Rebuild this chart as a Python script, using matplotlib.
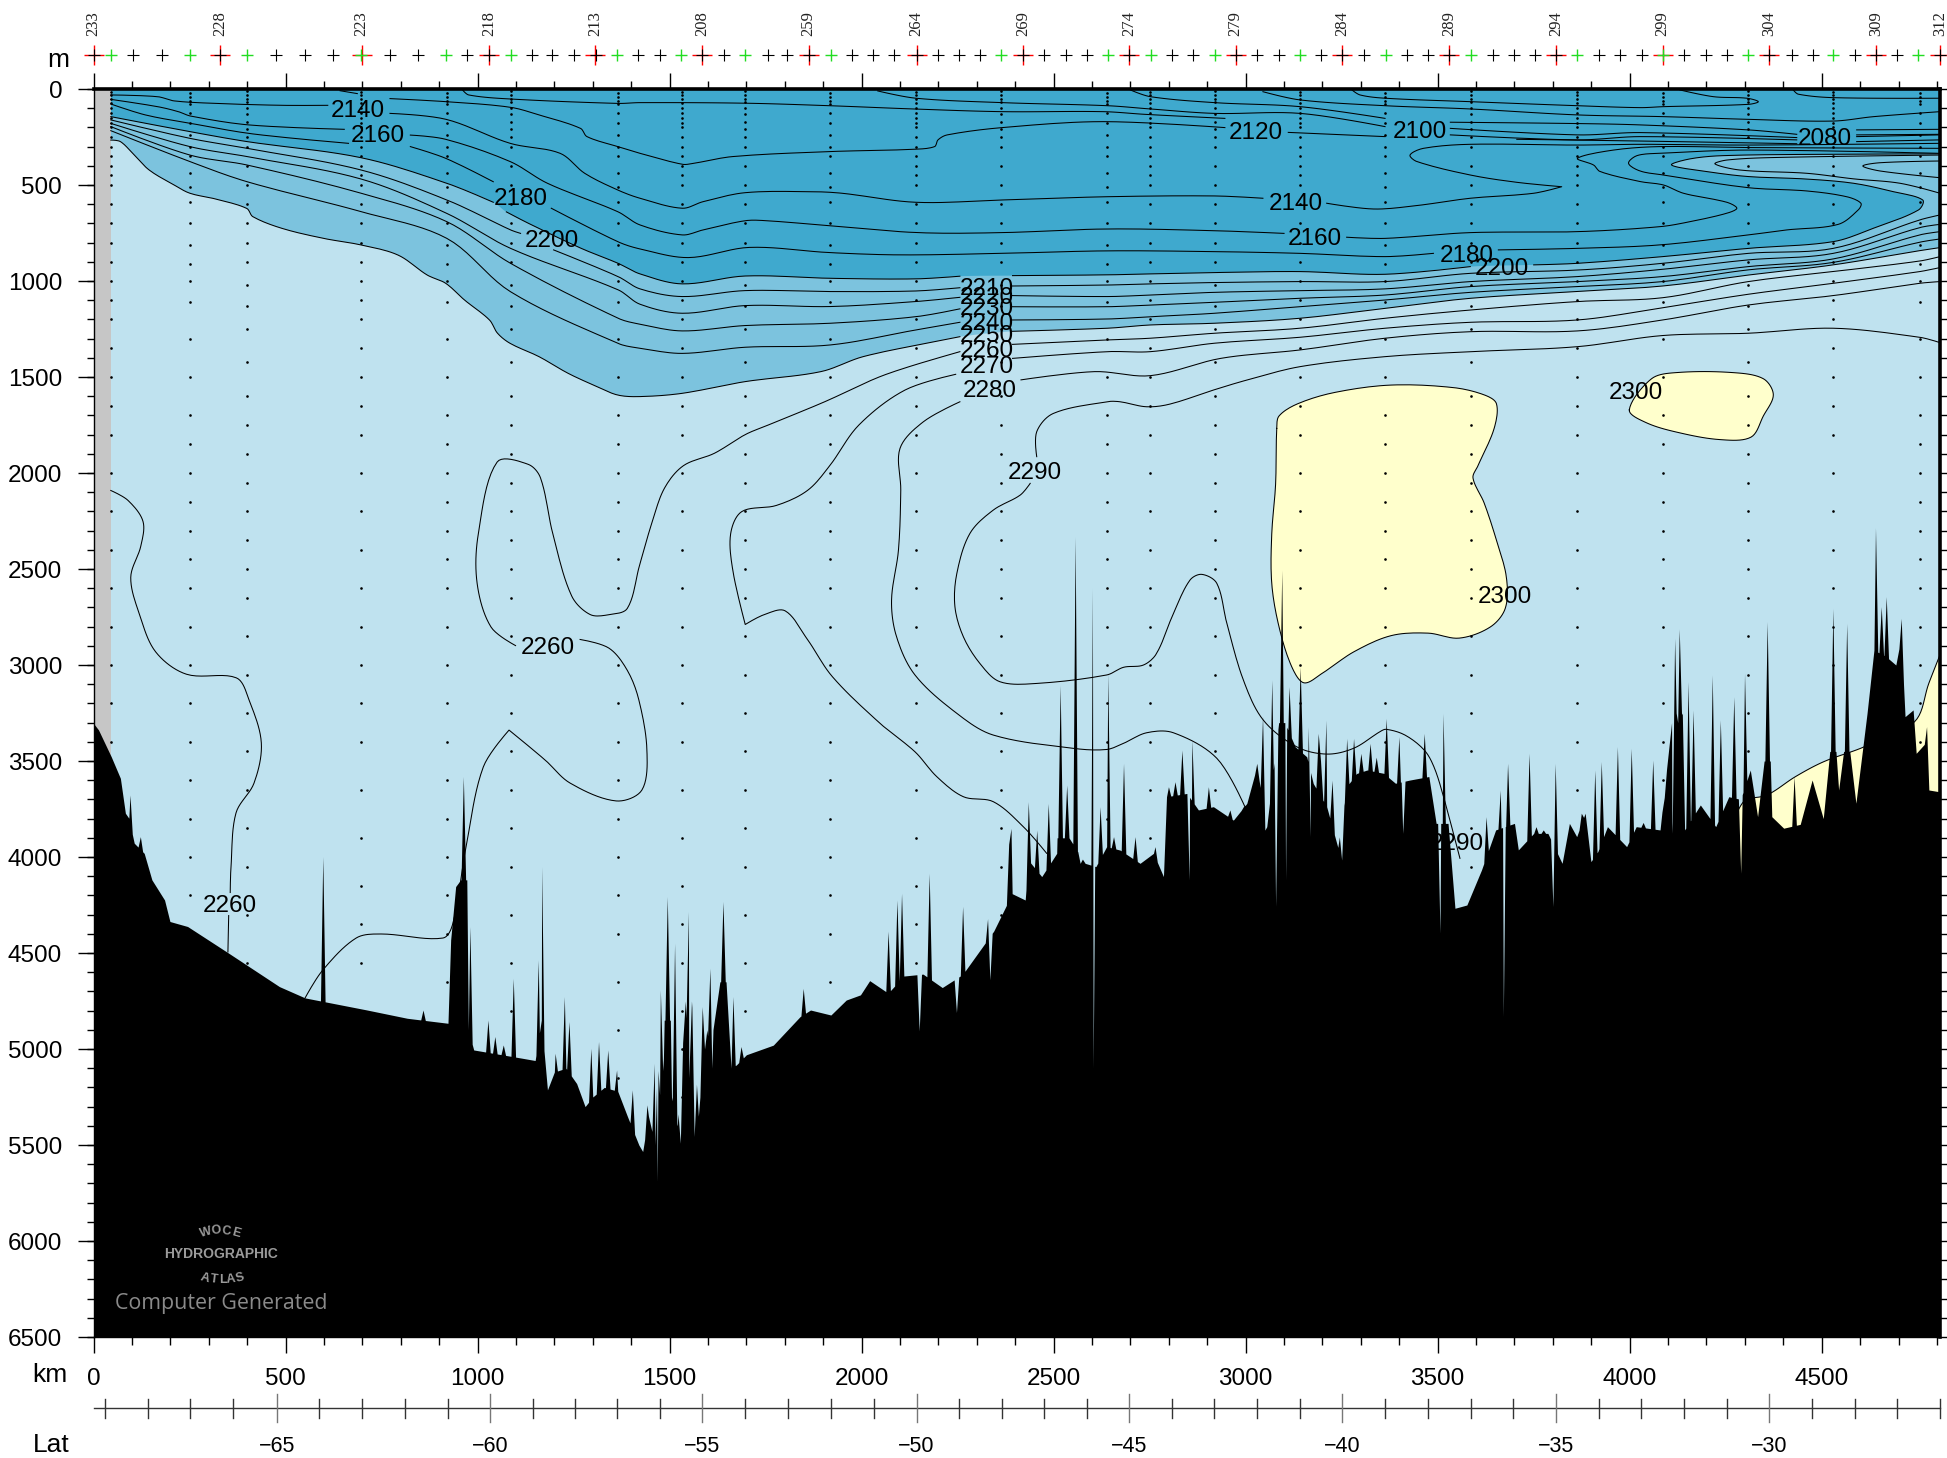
import numpy as np
import matplotlib
matplotlib.use('Agg')
import matplotlib.pyplot as plt

plt.rcParams['font.family'] = ['Liberation Sans', 'DejaVu Sans']

GAP = (np.nan, np.nan)

# ---- layered contours on common columns (km) -------------------------------
G_MID = [45,251,400,697,920,1086,1366,1423,1533,1697,1919,2141,2256,2393,2640,2752,2919,3142,3363,3586,3864,4086,4309,4530,4755,4808]
M2210 = [161,257,309,422,578,734,977,1041,1081,1050,1055,1052,1035,1026,1021,1015,1008,1003,1003,960,943,908,856,830,682,656]
M2220 = [179,300,352,469,648,830,1046,1121,1168,1128,1133,1107,1085,1076,1081,1073,1059,1050,1041,1003,977,939,890,856,722,705]
M2230 = [196,344,396,543,691,908,1194,1225,1260,1232,1220,1186,1145,1134,1134,1125,1111,1090,1073,1029,1003,977,925,885,760,743]
M2240 = [217,378,483,639,778,1056,1325,1350,1377,1345,1333,1255,1215,1203,1198,1186,1168,1133,1099,1059,1029,1003,942,903,798,781]

C2250 = [(45,266),(70,274),(102,335),(145,422),(210,500),(251,543),(318,573),(399,622),(415,665),(491,726),(599,778),(696,812),(793,865),(869,969),(917,1012),(966,1099),(1031,1203),(1052,1272),(1085,1325),(1160,1394),(1236,1481),(1311,1550),(1365,1594),(1423,1602),(1533,1585),(1697,1524),(1894,1472),(2004,1394),(2190,1316),(2256,1290),GAP,(2393,1262),(2640,1246),(2752,1229),(2919,1220),(3142,1194),(3363,1142),(3586,1090),(3864,1055),(4086,1026),(4309,969),(4530,916),(4755,842),(4808,826)]

C2200 = [(45,144),(251,222),(400,274),(697,358),(920,491),(1041,590),GAP,(1075,640),(1133,700),(1270,830),(1366,908),(1423,963),(1533,1015),(1697,974),(1919,986),(2141,989),(2256,975),GAP,(2393,972),(2640,968),(2752,963),(2919,956),(3142,951),(3363,965),(3585,925),GAP,(3750,916),(3864,908),(4086,873),(4309,830),(4530,795),(4635,725),(4752,630),(4763,578),(4687,535),(4583,491),(4461,469),(4309,456),(4201,430),(4109,396),(4157,364),(4244,347),(4513,340),(4808,338)]

C2180 = [(45,78),(135,135),(253,179),(415,234),(664,283),GAP,(825,300),(917,361),(1041,483),GAP,(1192,621),(1365,795),(1423,833),(1549,878),(1708,825),(1916,852),(2102,864),(2366,856),(2640,843),(2919,847),(3142,856),(3363,873),(3489,856),GAP,(3658,838),(3864,830),(4079,812),(4309,760),(4409,734),(4543,705),(4595,630),(4602,595),(4565,561),(4461,531),(4309,514),(4088,448),(4027,427),(3997,387),(4019,347),(4079,335),(4309,318),(4808,335)]

C2160 = [(45,54),(167,92),(221,118),(253,141),(404,187),(653,210),GAP,(825,240),(917,262),(1085,378),(1182,491),(1365,639),(1423,708),(1533,760),(1587,734),(1697,686),(1752,686),(1916,712),(2146,748),(2366,748),(2640,729),(2919,738),(3100,752),GAP,(3263,772),(3363,778),(3585,748),(3864,743),(4079,717),(4157,691),(4253,647),(4279,621),(4253,590),(4140,543),(4088,500),(4027,482),(3923,430),(3906,396),(3864,361),(3958,318),(4079,300),(4309,305),(4808,309)]

C2140 = [(45,31),(167,40),(210,62),(318,75),(491,85),(610,85),GAP,(772,127),(918,158),(1085,283),(1215,335),(1279,439),(1365,526),(1423,569),(1533,621),(1587,587),(1697,540),(1872,535),(1949,543),(2141,590),(2366,578),(2640,561),(2919,557),(3045,569),GAP,(3211,595),(3333,625),(3446,607),(3585,569),(3750,543),(3823,509),(3706,486),(3585,448),(3446,378),(3428,344),(3463,309),(3585,288),(3864,292),(4027,288),(4309,292),(4808,283)]

C2120 = [(642,9),(687,24),GAP,(772,50),(918,66),(1085,95),(1160,135),(1268,205),(1285,248),(1365,300),(1423,335),(1533,392),(1560,388),(1664,352),(1916,326),(2135,314),(2190,300),(2199,265),(2223,239),(2366,201),(2629,170),(2946,201),GAP,(3111,226),(3363,248),GAP,(3533,239),(3864,265),(4027,248),(4435,265),GAP,(4591,248),(4808,239)]

C_U1 = [(961,5),(977,31),(1085,52),(1365,75),(1423,71),(1697,74),(1916,87),(2135,104),(2366,118),(2629,118),(2738,132),(2946,153)]
C_U1B = [(3706,262),(4027,271),(4435,285),GAP,(4591,274),(4808,265)]
C_A = [(3045,14),(3142,57),(3363,87),(3585,104),(3864,135),(4088,144),(4309,158),(4530,167),(4635,144),(4808,118)]
C_B = [(2700,5),(2752,40),(2919,71),(3142,92),(3363,153),GAP,(3533,173),(3864,180),(4027,187),(4309,213),(4435,236),GAP,(4591,213),(4808,210)]
C_C = [(2042,10),(2141,48),(2366,71),(2640,87),(2752,104),(2919,127),(3142,127),(3363,196),GAP,(3533,205),(3864,239),(4027,227),(4435,253),GAP,(4591,239),(4808,236)]
C_T1 = [(3277,5),(3298,31),(3363,48),(3585,66),(3864,87),(4027,97),(4088,92),(4309,80),(4335,66),(4305,48),(4218,40),(4131,5)]
C_T2 = [(4426,5),(4439,27),(4530,45),(4808,48)]
C_I1 = [(4808,344),(4374,357),(4253,370),(4222,390),(4287,422),(4461,439),(4583,468),(4704,491),(4808,543)]
C_I2 = [(4808,375),(4652,384),(4607,401),(4652,427),(4808,462)]

C2260A = [(45,2091),(90,2143),(129,2253),(123,2382),(97,2544),(120,2738),(162,2932),(242,3048),(372,3067),(405,3182),(437,3406),(418,3615),(371,3771),(358,4052),(356,4185),GAP,(352,4305),(350,4495)]
C2260B = [(551,4734),(597,4589),(684,4422),(749,4401),(910,4422),(936,4344),(970,3948),(1015,3531),(1082,3339),(1176,3495),(1241,3615),(1361,3708),(1428,3651),(1441,3443),(1420,3182),(1390,3028),(1342,2912),(1267,2867),GAP,(1099,2899),(1035,2802),(999,2576),(1002,2317),(1051,1943),(1132,1955),(1164,2026),(1196,2317),(1245,2640),(1293,2737),(1342,2738),(1390,2705),(1422,2479),(1455,2253),(1487,2078),(1536,1962),(1617,1897),(1697,1800),(1757,1750),(1905,1628),(2037,1507),(2124,1446),(2256,1368),GAP,(2393,1330),(2640,1307),(2752,1298),(2919,1272),(3142,1246),(3363,1194),(3586,1151),(3864,1107),(4086,1087),(4309,1003),(4530,951),(4755,896),(4808,873)]
C2270 = [(2482,3981),(2421,3842),(2343,3712),(2265,3686),(2196,3582),(2139,3452),(2048,3304),(1924,3061),(1859,2867),(1801,2718),(1746,2738),(1697,2789),(1665,2511),(1659,2317),(1688,2201),(1778,2169),(1859,2091),(1917,1962),(1993,1750),(2113,1568),(2245,1486),GAP,(2393,1403),(2640,1368),(2752,1368),(2919,1324),(3142,1293),(3363,1246),(3586,1215),(3864,1203),(4086,1139),(4309,1069),(4530,1012),(4755,951),(4808,930)]
C2280 = [(2998,3738),(2925,3486),(2812,3353),(2742,3353),(2682,3408),(2638,3440),(2551,3434),(2343,3365),(2248,3252),(2139,3052),(2091,2853),(2078,2662),(2096,2401),(2102,2089),(2100,1872),(2161,1733),(2256,1629),GAP,(2415,1515),(2607,1472),(2752,1493),(2935,1403),(3142,1359),(3363,1298),(3586,1264),(3864,1260),(4086,1203),(4309,1125),(4530,1076),(4755,1012),(4808,1003)]
C2290 = [(3558,4007),(3514,3677),(3490,3529),(3465,3443),(3415,3365),(3366,3335),(3350,3347),(3281,3434),(3211,3464),(3133,3426),(3046,3287),(2994,3078),(2951,2783),(2925,2575),(2886,2528),(2855,2558),(2812,2731),(2768,2940),(2734,3000),(2682,3012),(2638,3052),(2456,3096),(2360,3087),(2308,2992),(2265,2853),(2243,2696),(2248,2523),(2282,2315),(2343,2193),(2413,2115),(2439,2054),GAP,(2456,1915),(2456,1785),(2499,1690),(2638,1629),(2673,1629),(2742,1655),(2803,1641),(2916,1568),(3003,1516),(3142,1446),(3363,1394),(3586,1368),(3864,1342),(4086,1284),(4309,1272),(4530,1246),(4755,1293),(4808,1321)]

Y_MAIN = [(3081,1768),(3087,1703),(3136,1639),(3233,1580),(3379,1542),(3540,1555),(3621,1593),(3653,1639),(3647,1768),(3605,1962),(3592,2026),(3621,2156),(3653,2350),(3679,2544),(3676,2705),(3637,2802),(3556,2860),(3475,2834),(3379,2847),(3282,2931),(3201,3041),(3152,3093),(3120,3009),(3087,2802),(3068,2576),(3068,2317),(3078,2059),(3081,1768)]
Y_SMALL = [(3999,1671),(4057,1509),(4122,1477),(4268,1477),(4348,1509),(4374,1593),(4348,1703),(4316,1813),(4235,1826),(4122,1787),(4041,1736),(3999,1671)]
Y_RIGHT = [(4283,3755),(4302,3703),(4358,3677),(4432,3581),(4506,3503),(4612,3425),(4742,3295),(4779,3095),(4806,2957)]
CUSPS = {(1082,3339),(1697,2789),(3823,509),(4283,3755)}

# ---- bathymetry --------------------------------------------------------------
BASE = [(0,3304),(13,3338),(46,3477),(70,3590),(83,3772),(92,3798),(106,3928),(132,3981),(152,4119),(185,4224),(199,4336),(245,4362),(352,4501),(484,4675),(551,4734),(710,4796),(817,4840),(923,4866),(930,4432),(943,4154),(956,4119),(972,4119),(976,4901),(990,5005),(1116,5048),(1150,5060),(1182,5213),(1200,5120),(1230,5100),(1258,5180),(1280,5300),(1300,5250),(1330,5200),(1365,5220),(1390,5350),(1420,5500),(1430,5534),(1445,5350),(1462,5500),(1476,5300),(1505,5250),(1520,5400),(1550,5150),(1575,5350),(1585,5100),(1610,5100),(1660,5100),(1674,5083),(1700,5030),(1770,4980),(1840,4831),(1867,4797),(1920,4823),(1960,4745),(1997,4718),(2021,4644),(2069,4709),(2110,4620),(2160,4610),(2210,4680),(2263,4612),(2344,4386),(2392,4191),(2426,4224),(2434,4016),(2469,4102),(2508,3981),(2540,3900),(2582,4033),(2610,4050),(2638,3946),(2673,3964),(2725,4033),(2760,3981),(2786,4102),(2794,3686),(2847,3669),(2877,3755),(2916,3738),(2968,3808),(3003,3721),(3029,3530),(3055,3842),(3129,3426),(3159,3478),(3176,3617),(3211,3738),(3240,3950),(3263,3634),(3289,3565),(3316,3547),(3359,3564),(3390,3616),(3428,3599),(3477,3581),(3496,3825),(3527,3825),(3545,4267),(3576,4250),(3614,4068),(3651,3859),(3700,3825),(3710,3963),(3750,3877),(3787,3877),(3824,4033),(3843,3825),(3862,3894),(3884,3772),(3899,4024),(3917,3972),(3942,3842),(3992,3946),(4017,3842),(4079,3859),(4110,3877),(4143,3859),(4184,3729),(4224,3842),(4258,3686),(4289,3700),(4314,3547),(4333,3790),(4370,3790),(4401,3850),(4444,3830),(4475,3599),(4504,3800),(4544,3651),(4589,3720),(4618,3252),(4636,2922),(4668,2957),(4693,3000),(4707,2852),(4717,3269),(4738,3234),(4746,3460),(4773,3400),(4779,3651),(4806,3660),(4808,3660)]
SHOULDERS = [(1158,4850),(1476,5050),(1494,4850),(1549,4750),(1605,4900),(1639,4650),(2517,3900),(3094,3300),(4117,3300),(4129,3250),(4358,3500),(4529,3450),(4565,3450)]
PEAKS = [(95,3677),(122,3894),(597,3998),(858,4797),(963,3581),(980,4362),(1027,4849),(1045,4935),(1067,4979),(1093,4632),(1158,4536),(1167,4050),(1202,5022),(1226,4727),(1238,4857),(1295,4996),(1315,4961),(1339,5005),(1362,5109),(1403,5213),(1441,5291),(1460,5074),(1476,4692),(1494,4206),(1513,4449),(1549,4284),(1585,4779),(1605,4579),(1639,4232),(1665,4727),(1686,4987),(1848,4684),(2069,4386),(2092,4224),(2104,4189),(2176,4085),(2263,4257),(2328,4321),(2383,3933),(2389,3851),(2434,3712),(2456,3860),(2486,3721),(2517,3104),(2534,3625),(2556,2332),(2601,2601),(2621,3738),(2641,3044),(2656,3894),(2682,3512),(2712,3894),(2764,3946),(2799,3634),(2816,3608),(2834,3443),(2860,3391),(2903,3634),(2959,3755),(2994,3738),(3029,3512),(3044,3269),(3068,3078),(3094,2506),(3113,3113),(3142,3009),(3163,3321),(3189,3356),(3195,3500),(3209,3287),(3225,3600),(3263,3382),(3281,3382),(3300,3460),(3324,3408),(3340,3480),(3366,3278),(3399,3373),(3465,3356),(3514,3252),(3626,3790),(3663,3651),(3682,3512),(3738,3460),(3756,3842),(3775,3859),(3806,3512),(3874,3772),(3909,3547),(3926,3503),(3968,3425),(4004,3434),(4035,3820),(4060,3495),(4090,3690),(4117,2861),(4129,2812),(4152,3087),(4165,3234),(4215,3052),(4236,3286),(4271,3165),(4299,3043),(4358,2774),(4428,3581),(4529,2705),(4565,2783),(4640,2285),(4655,2696),(4668,2644),(4707,2757),(4773,3321)]
NOTCHES = [(1468,5690),(1528,5491),(1564,5456),(2150,4906),(2247,4810),(2334,4640),(2569,4033),(2603,5100),(2853,4120),(3050,3860),(3078,4257),(3104,4120),(3168,3894),(3250,4016),(3409,3877),(3506,4397),(3671,4831),(3800,4258),(4289,4085)]

# ---- stations ----------------------------------------------------------------
RED_KM = [0,330,698,1031,1306,1584,1862,2143,2421,2696,2974,3252,3530,3808,4086,4364,4642,4808]
RED_LABELS = ['233','228','223','218','213','208','259','264','269','274','279','284','289','294','299','304','309','312']
GREEN_KM = [45,250,400,697,918,1086,1364,1529,1697,1920,2363,2641,2754,2919,3142,3365,3588,3863,4086,4309,4529,4752]
BLACK_KM = [0,103,178,329,475,551,623,772,845,973,1031,1141,1195,1251,1308,1419,1474,1584,1642,1755,1807,1862,1975,2030,2085,2143,2198,2253,2308,2421,2476,2531,2586,2696,2809,2864,2974,3029,3087,3197,3252,3307,3420,3475,3530,3643,3698,3753,3808,3921,3976,4031,4141,4199,4254,4364,4423,4477,4587,4642,4697,4808]

DEPTHS_A = [15,30,50,75,100,125,150,175,200,250,300,350,400,450,500,600,700,800,900,1000,1100,1200,1350,1500,1650,1800,2000,2200,2400,2600,2800,3000,3200,3400,3650,3900,4150,4350,4550,4800,5000,5250,5500]
DEPTHS_B = [20,40,60,80,125,175,240,300,350,440,510,590,700,810,910,1000,1110,1300,1500,1700,1850,2000,2150,2300,2450,2600,2800,3000,3200,3400,3600,3800,4000,4200,4400,4650,4900,5150,5400]
DEPTHS_C = [10,30,50,70,100,130,170,210,250,300,400,500,600,700,800,900,1020,1130,1250,1420,1600,1750,1900,2050,2200,2350,2500,2650,2850,3050,3250,3450,3650,3850,4050,4300,4550,4800]
STN_COLUMNS = {45:DEPTHS_A,251:DEPTHS_B,400:DEPTHS_C,697:DEPTHS_A,920:DEPTHS_B,1086:DEPTHS_C,1366:DEPTHS_B,1533:DEPTHS_A,1697:DEPTHS_C,1919:DEPTHS_B,2141:DEPTHS_A,2363:DEPTHS_C,2640:DEPTHS_B,2752:DEPTHS_A,2919:DEPTHS_C,3142:DEPTHS_A,3363:DEPTHS_B,3586:DEPTHS_C,3864:DEPTHS_A,4086:DEPTHS_B,4309:DEPTHS_C,4530:DEPTHS_A,4755:DEPTHS_B}

LAT_MAJOR = [-65,-60,-55,-50,-45,-40,-35,-30]
LAT_MAJOR_KM = [477,1033,1584,2143,2696,3252,3808,4364]
LAT_MINOR_KM = [30,141,252,362,587,699,810,922,1144,1254,1364,1474,1696,1808,1920,2031,2254,2365,2475,2586,2807,2918,3030,3141,3363,3474,3586,3697,3919,4030,4141,4253,4475,4586,4697,4808]

LABELS = [('2140',689,113),('2160',740,243),('2180',1112,572),('2200',1193,792),('2120',3026,230),('2100',3453,223),('2080',4507,262),('2140',3130,598),('2160',3181,779),('2180',3576,869),('2200',3666,940),('2210',2325,1042),('2220',2325,1086),('2230',2325,1147),('2240',2325,1225),('2250',2325,1285),('2260',2325,1363),('2270',2325,1447),('2280',2333,1575),('2290',2451,2001),('2300',3676,2647),('2300',4015,1581),('2260',1183,2912),('2260',356,4257),('2290',3550,3934)]

DARK, MID, LIGHT, YEL, GREY = '#3FA9CE', '#7CC3DE', '#BFE2EF', '#FFFFCC', '#C6C6C6'

W, H = 1947, 1458
L, R, T, B = 93.5, 1940, 89, 1337
fig = plt.figure(figsize=(W/100, H/100), dpi=100, facecolor='white')
ax = fig.add_axes([L/W, 1-B/H, (R-L)/W, (B-T)/H])
ax.set_xlim(0, 4808)
ax.set_ylim(6500, 0)
ax.set_facecolor(DARK)
SX, SY = (R-L)/4808, (B-T)/6500


def bezier_run(run):
    """Draw a hand-read run of contour vertices as a rounded curve (the reference's lines are smooth)."""
    if len(run) < 3:
        return [p[0] for p in run], [p[1] for p in run]
    closed = run[0] == run[-1]
    P = np.array(run, float) * [SX, SY]
    n = len(P)
    tang = np.zeros_like(P)
    for i in range(n):
        if tuple(run[i]) in CUSPS:
            continue
        if closed and i in (0, n-1):
            a, b = P[0]-P[n-2], P[1]-P[0]
        elif i == 0 or i == n-1:
            continue
        else:
            a, b = P[i]-P[i-1], P[i+1]-P[i]
        la, lb = np.hypot(*a), np.hypot(*b)
        tang[i] = (a+b) / max(la+lb, 1e-6)
    out = [P[0]]
    ts = np.linspace(0, 1, 11)[1:]
    for i in range(n-1):
        d = np.hypot(*(P[i+1]-P[i]))
        c1 = P[i] + tang[i]*d/3
        c2 = P[i+1] - tang[i+1]*d/3
        for t in ts:
            out.append((1-t)**3*P[i] + 3*(1-t)**2*t*c1 + 3*(1-t)*t**2*c2 + t**3*P[i+1])
    out = np.array(out) / [SX, SY]
    return out[:, 0], out[:, 1]


def curve(seq):
    xs, ys, run = [], [], []
    for p in list(seq) + [GAP]:
        if np.isnan(p[0]):
            if run:
                a, b = bezier_run(run)
                xs += list(a) + [np.nan]
                ys += list(b) + [np.nan]
            run = []
        else:
            run.append(tuple(p))
    return np.array(xs), np.array(ys)


def solid(seq):
    return [p for p in seq if not np.isnan(p[0])]


def mid_line(vals):
    pts = []
    for k, v in zip(G_MID, vals):
        if k == 2393:
            pts.append(GAP)
        pts.append((k, v))
    return pts


def add_left_gap(pts):
    out = []
    for p in pts:
        if p[0] == 1366:
            out += [(1112, 752), GAP, (1198, 838)]
        out.append(p)
    return out


def strip_nan(xs, ys):
    m = ~np.isnan(xs)
    return xs[m], ys[m]


# fills
px, py = strip_nan(*curve(solid(C2200)))
ax.fill(np.r_[px, 4808, 45], np.r_[py, 6500, 6500], color=MID, lw=0, zorder=1)
px, py = strip_nan(*curve(solid(C2250)))
ax.fill(np.r_[px, 4808, 45], np.r_[py, 6500, 6500], color=LIGHT, lw=0, zorder=1.1)
ax.fill(*strip_nan(*curve(Y_MAIN)), color=YEL, lw=0, zorder=1.2)
ax.fill(*strip_nan(*curve(Y_SMALL)), color=YEL, lw=0, zorder=1.2)
px, py = strip_nan(*curve(Y_RIGHT))
ax.fill(np.r_[px, 4808, 4283], np.r_[py, 6500, 6500], color=YEL, lw=0, zorder=1.2)
ax.fill([0, 45, 45, 0], [0, 0, 6500, 6500], color=GREY, lw=0, zorder=1.3)

# contour lines
ALL_LINES = [C2180, C2160, C2140, C2120, C_U1, C_U1B, C_A, C_B, C_C, C_T1, C_T2, C_I1, C_I2,
             C2200, C2250, C2260A, C2260B, C2270, C2280, C2290, Y_MAIN, Y_SMALL, Y_RIGHT,
             add_left_gap(mid_line(M2210)), mid_line(M2220), mid_line(M2230), mid_line(M2240)]
for seq in ALL_LINES:
    ax.plot(*curve(seq), color='black', lw=0.75, zorder=2, solid_joinstyle='round')

# station dots
for km, depths in STN_COLUMNS.items():
    ax.plot([km]*len(depths), depths, ls='none', marker='o', ms=1.9, mfc='black', mec='none', zorder=2.5)

# bathymetry
full_base = sorted(BASE + [(k+o, h) for k, h in SHOULDERS for o in (-8, 8)])
bx = np.array([p[0] for p in full_base], float)
by = np.array([p[1] for p in full_base], float)
prof = {float(k): float(v) for k, v in zip(bx, by)}
w = 6.0
for k, v in PEAKS + NOTCHES:
    for off in (-w, w):
        kk = float(k + off)
        if 0 <= kk <= 4808:
            prof.setdefault(kk, float(np.interp(kk, bx, by)))
for k, v in PEAKS + NOTCHES:
    prof[float(k)] = float(v)
kms = sorted(prof)
ax.fill_between(kms, [prof[k] for k in kms], 6500, color='black', lw=0, zorder=3)

# labels on contours
for txt, k, d in LABELS:
    ax.text(k, d, txt, fontsize=17.5, ha='center', va='center', color='black', zorder=4)

# axes and ticks
for s in ('left', 'bottom'):
    ax.spines[s].set_linewidth(1.0)
for s in ('top', 'right'):
    ax.spines[s].set_linewidth(2.6)
ax.set_xticks(range(0, 4801, 500))
ax.set_xticks(range(0, 4801, 100), minor=True)
ax.set_yticks(range(0, 6501, 500))
ax.set_yticks(range(0, 6501, 100), minor=True)
ax.yaxis.remove_overlapping_locs = False
ax.tick_params(axis='y', which='major', left=True, length=11.5, width=1.0, labelsize=17.5, pad=11)
ax.tick_params(axis='y', which='minor', left=True, right=True, length=5, width=1.0)
ax.tick_params(axis='x', which='major', bottom=True, top=True, length=11.5, width=1.0, labelsize=17.5, pad=11)
ax.tick_params(axis='x', which='minor', bottom=True, top=True, length=5.5, width=1.0)
ax.set_axisbelow(False)

# top station strip
tr = ax.get_xaxis_transform()
ys = 1 + (T - 55) / (B - T)
ax.plot(RED_KM, [ys]*len(RED_KM), ls='none', marker='+', ms=14, mew=1.0, color='#FF0000', transform=tr, clip_on=False, zorder=5)
ax.plot(GREEN_KM, [ys]*len(GREEN_KM), ls='none', marker='+', ms=8, mew=1.0, color='#22DD22', transform=tr, clip_on=False, zorder=6)
ax.plot(BLACK_KM, [ys]*len(BLACK_KM), ls='none', marker='+', ms=8, mew=0.8, color='black', transform=tr, clip_on=False, zorder=6)
for k, t in zip(RED_KM, RED_LABELS):
    ax.text(k, 1 + (T - 24) / (B - T), t, rotation=90, fontsize=12, family='Liberation Serif',
            ha='center', va='center', color='#222222', transform=tr, clip_on=False)

# latitude axis
yl = -(1408 - B) / (B - T)
ax.plot([0, 4808], [yl, yl], color='#333333', lw=1.0, transform=tr, clip_on=False)
for k in LAT_MINOR_KM:
    ax.plot([k, k], [-(1418 - B) / (B - T), -(1399 - B) / (B - T)], color='#333333', lw=1.0, transform=tr, clip_on=False)
for k, v in zip(LAT_MAJOR_KM, LAT_MAJOR):
    ax.plot([k, k], [-(1422 - B) / (B - T), -(1394 - B) / (B - T)], color='#777777', lw=1.0, transform=tr, clip_on=False)
    ax.text(k, -(1447 - B) / (B - T), '\u2212%d' % abs(v), fontsize=15.5, ha='center', va='center', transform=tr, clip_on=False)

# side captions
fig.text(58/W, 1-60/H, 'm', fontsize=19, ha='center', va='center')
fig.text(50/W, 1-1375/H, 'km', fontsize=19, ha='center', va='center')
fig.text(51/W, 1-1445/H, 'Lat', fontsize=19, ha='center', va='center')

# watermark
WM = '#9A9A9A'
for ch, x, y, r in [('W', 206, 1233, 15), ('O', 216, 1231, 5), ('C', 226, 1231, -5), ('E', 236, 1233, -15),
                    ('A', 205, 1278, -15), ('T', 214, 1279, -7), ('L', 222.5, 1280, 0), ('A', 231, 1279, 7), ('S', 240, 1278, 15)]:
    fig.text(x/W, 1-y/H, ch, fontsize=9, fontweight='bold', color=WM, rotation=r, ha='center', va='center', zorder=10)
fig.text(221/W, 1-1254/H, 'HYDROGRAPHIC', fontsize=10, fontweight='bold', color=WM, ha='center', va='center', zorder=10)
fig.text(221/W, 1-1303/H, 'Computer Generated', fontsize=15.4, family='Open Sans', color='#8A8A8A', ha='center', va='center', zorder=10)

fig.savefig('out.png', dpi=100, facecolor='white')
